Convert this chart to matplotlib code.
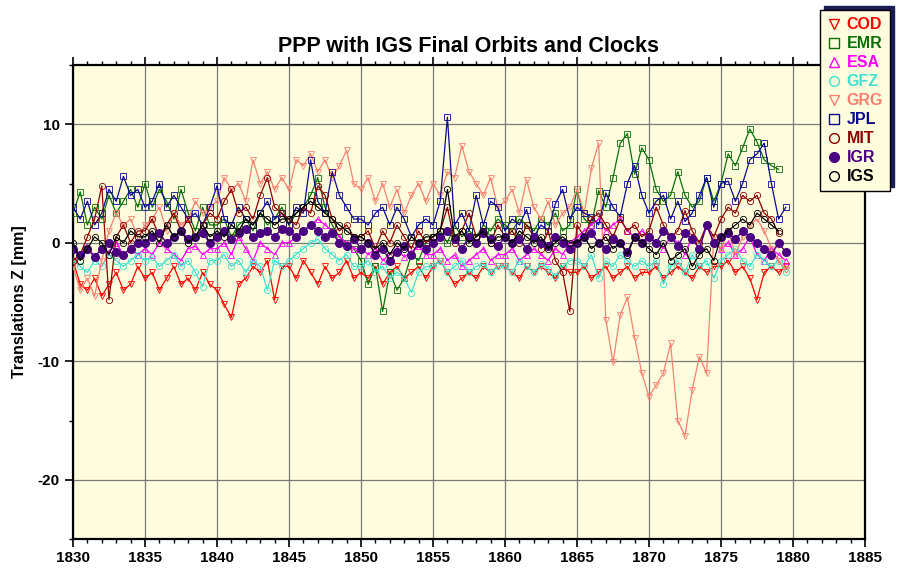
import numpy as np
import matplotlib
matplotlib.use("Agg")
import matplotlib.pyplot as plt
from matplotlib.lines import Line2D
from matplotlib.ticker import MultipleLocator

plt.rcParams['font.family'] = ['Liberation Sans', 'DejaVu Sans']
plt.rcParams['axes.unicode_minus'] = False

# GPS week of every sample (half-week steps)
week_start = 1830.0
step = 0.5

cod = [-1.5, -3.5, -4.0, -3.0, -4.5, -3.5, -2.5, -4.0, -3.5, -2.0,
       -3.0, -2.5, -4.0, -3.0, -2.0, -3.5, -3.0, -4.0, -2.5, -3.5,
       -4.0, -5.2, -6.3, -3.5, -3.0, -2.0, -2.5, -1.5, -4.8, -2.0,
       -2.0, -3.0, -1.5, -2.5, -3.5, -2.0, -3.0, -2.5, -1.5, -3.0,
       -2.5, -3.0, -2.0, -3.5, -2.5, -2.0, -3.0, -2.5, -2.0, -3.0,
       -2.0, -1.5, -2.5, -3.5, -3.0, -2.5, -3.0, -2.0, -2.5, -2.0,
       -2.0, -2.5, -3.0, -2.0, -2.5, -2.0, -2.5, -3.0, -2.0, -2.5,
       -2.5, -2.0, -3.0, -2.5, -2.0, -3.0, -2.5, -2.0, -3.0, -2.5,
       -2.5, -2.0, -3.0, -2.5, -2.0, -2.5, -3.0, -2.0, -2.5, -2.0,
       -2.0, -1.5, -2.5, -2.0, -3.0, -4.8, -2.5, -2.0, -2.5, -2.0]

emr = [2.5, 4.3, 1.5, 3.0, 2.0, 4.0, 2.5, 3.5, 4.5, 3.0,
       5.0, 3.0, 4.5, 3.5, 2.0, 4.5, 2.5, 1.0, 3.0, 1.5,
       1.5, 2.0, 0.5, 1.5, 2.0, 1.0, 2.5, 1.5, 2.0, 3.0,
       1.5, 2.5, 3.0, 4.0, 5.5, 3.0, 1.5, 0.5, 0.0, -0.5,
       -1.5, -3.5, -2.0, -5.8, -2.5, -4.0, -3.0, -1.0, -1.5, 0.0,
       0.5, 1.0, 0.0, 1.5, 0.5, 1.0, 0.5, 1.5, 1.0, 2.0,
       1.5, 1.0, 2.0, 1.5, 1.0, 2.0, 1.5, 2.5, 1.0, 1.5,
       4.5, 2.0, 1.5, 4.4, 3.0, 5.5, 8.4, 9.2, 5.8, 8.0,
       7.0, 4.5, 3.5, 4.0, 6.0, 4.0, 3.0, 3.5, 5.5, 3.5,
       5.0, 7.5, 6.5, 8.0, 9.6, 8.5, 7.0, 6.5, 6.2]

esa = [-0.5, -1.0, -0.3, -1.2, -0.5, -0.8, 0.0, -1.0, -0.5, -1.0,
       -0.5, -1.0, 0.0, -0.5, -1.0, -1.5, -0.5, -0.3, -1.0, -0.5,
       -0.5, 0.0, -1.0, 0.5, -0.5, -1.5, 0.0, -0.5, -1.0, 0.0,
       0.0, 0.5, 1.0, 1.5, 2.0, 1.5, 1.0, 0.5, 0.0, -0.5,
       -0.5, -1.0, -0.5, -1.5, -1.0, -0.5, -1.2, -0.8, -0.3, -1.0,
       -1.0, -0.5, -1.5, -1.0, -2.0, -1.5, -1.0, -0.5, -1.5, -1.0,
       -1.0, -0.5, -1.5, -1.0, -0.5, -1.0, -1.5, -0.5, -1.0, 0.0,
       0.5, 1.0, 1.5, 2.0, 1.0, 1.5, 2.0, 1.0, 0.5, 1.0,
       0.5, 0.0, -0.5, 0.5, 0.0, -1.0, 0.5, -0.5, 1.5, 0.0,
       -0.5, 0.0, -1.0, -0.5, 0.5, -1.0, -1.5, -0.5, -1.0, -1.5]

gfz = [-1.5, -2.0, -2.5, -1.5, -2.0, -1.0, -1.5, -2.0, -1.5, -1.0,
       -1.5, -1.2, -2.0, -1.5, -1.0, -2.0, -1.5, -2.5, -3.7, -1.5,
       -1.5, -1.0, -2.0, -1.5, -2.5, -1.5, -2.0, -4.0, -1.5, -2.0,
       -1.5, -1.0, -0.5, 0.0, 0.3, -0.5, -1.0, -1.5, -1.0, -2.0,
       -2.0, -1.5, -2.5, -2.0, -3.0, -2.5, -3.0, -4.2, -2.5, -2.0,
       -2.0, -1.5, -2.5, -2.0, -1.5, -2.5, -2.0, -1.8, -2.5, -2.0,
       -2.0, -2.5, -1.5, -2.0, -2.5, -1.8, -2.2, -2.8, -2.0, -1.5,
       -1.5, -2.0, -1.0, -3.0, -1.5, -2.0, -1.0, -1.5, -2.0, -1.5,
       -2.0, -1.5, -3.5, -2.0, -1.5, -2.5, -1.0, -2.0, -1.5, -3.0,
       -1.5, -1.0, -0.5, -1.5, -2.0, -1.0, -1.5, -2.0, -1.5, -2.5]

grg = [-2.0, -4.0, -3.0, -4.5, -1.5, 1.0, 2.5, 1.5, 2.0, 0.5,
       1.5, 2.0, 3.0, 1.0, 2.5, 1.5, 2.0, 3.5, 2.5, 3.0,
       3.5, 5.5, 4.5, 5.0, 3.5, 7.0, 5.0, 6.0, 4.5, 5.5,
       4.5, 7.0, 6.5, 7.5, 6.0, 7.0, 5.5, 6.5, 7.8, 5.0,
       4.5, 5.5, 3.5, 5.0, 3.0, 4.5, 2.5, 4.0, 5.0, 3.5,
       5.0, 4.0, 6.0, 5.5, 8.2, 6.0, 5.0, 4.0, 5.5, 3.0,
       3.5, 4.5, 2.5, 5.3, 3.0, 2.0, 3.5, 1.5, 2.5, 3.0,
       4.5, 2.5, 6.3, 8.4, -6.5, -10.1, -6.1, -4.6, -8.0, -11.0,
       -13.0, -12.0, -11.0, -8.5, -15.0, -16.3, -12.4, -9.6, -11.0, 0.5,
       -0.5, 1.0, -1.0, 0.5, 1.5, 2.0, 1.0, -0.5, -1.5, -2.3]

jpl = [3.0, 2.0, 3.5, 1.5, 2.5, 4.5, 3.5, 5.6, 4.0, 4.5,
       3.0, 3.5, 5.0, 3.0, 4.0, 3.0, 2.0, 2.5, 1.5, 3.0,
       4.8, 2.0, 1.5, 3.0, 2.0, 1.5, 2.5, 3.5, 2.0, 2.5,
       1.5, 3.0, 2.5, 7.0, 3.5, 2.5, 6.0, 4.0, 3.0, 2.0,
       2.0, 1.5, 2.5, 3.0, 1.5, 3.0, 2.0, 0.5, 1.5, 2.0,
       1.5, 3.5, 10.6, 1.5, 2.5, 1.0, 4.0, 1.5, 3.5, 3.0,
       1.0, 2.0, 1.5, 2.8, 0.5, 1.5, 1.0, 3.3, 4.5, 2.0,
       3.0, 2.5, 2.2, 1.5, 4.2, 3.0, 2.2, 5.0, 6.5, 4.0,
       2.5, 3.5, 4.0, 2.0, 3.5, 1.8, 2.5, 4.0, 5.5, 3.0,
       5.0, 5.2, 3.5, 5.0, 7.0, 7.5, 8.4, 5.0, 2.0, 3.0]

mit = [-1.5, -1.0, 0.5, 2.0, 4.8, -4.8, 0.5, 1.5, 0.0, 1.0,
       1.0, 2.0, 0.5, 1.5, 2.5, 1.0, 2.0, 0.5, 1.5, 2.5,
       2.0, 3.5, 4.5, 2.5, 3.0, 2.0, 4.0, 5.5, 3.0, 2.5,
       2.0, 1.5, 3.0, 2.5, 4.8, 4.0, 2.0, 1.0, 1.5, 0.5,
       0.5, 1.0, -0.5, 1.0, 0.0, 1.5, 0.5, -0.5, 1.0, 0.0,
       0.5, 1.0, 3.0, 0.0, 1.0, 2.5, 0.5, 1.0, 0.0, 1.5,
       0.5, 1.0, 0.0, 1.5, 0.5, -0.5, 1.0, -1.5, -2.5, -5.8,
       1.5, 0.5, 2.0, 2.5, 1.5, 0.5, 2.0, 1.0, 1.5, 0.5,
       1.0, 3.0, 1.5, 0.5, 1.0, 2.7, 1.0, 0.0, 1.5, 0.5,
       2.0, 3.0, 2.5, 4.0, 3.5, 4.0, 2.5, 2.0, 0.8]

igr = [-0.5, -1.0, -0.5, -1.2, -0.5, 0.0, -0.8, -1.0, -0.5, 0.0,
       0.0, 0.5, 0.8, 0.0, 0.5, 1.0, 0.3, 0.5, 0.8, 0.0,
       0.5, 1.0, 0.3, 0.8, 1.2, 0.5, 0.8, 1.0, 0.5, 1.2,
       1.0, 0.5, 1.0, 1.5, 1.0, 0.5, 0.8, 0.0, -0.3, 0.3,
       -0.5, 0.0, -1.0, -0.5, -1.5, -0.8, -0.3, -1.0, 0.0, -0.5,
       0.0, 0.5, 1.0, 0.3, -0.5, 0.5, 0.0, 0.8, 0.3, -0.3,
       0.5, 0.0, 0.3, -0.5, 0.5, 0.0, -0.3, 0.5, 0.0, -0.5,
       0.0, 0.5, 0.8, 0.0, -0.5, 0.3, 0.0, -0.8, 0.5, 0.0,
       0.5, 0.0, 1.0, 0.5, -0.3, 0.8, 0.3, -0.5, 1.5, 0.0,
       0.5, 0.8, 0.3, 1.0, 0.5, 0.0, -0.5, -1.0, 0.0, -0.8]

igs = [0.0, -1.5, -0.5, 0.5, 0.0, -1.0, 0.5, 0.0, 1.0, 0.5,
       0.5, 1.0, 0.0, 1.5, 0.5, 1.0, 0.0, 0.5, 1.5, 0.5,
       1.0, 0.5, 1.5, 1.0, 2.0, 1.5, 2.5, 2.0, 1.5, 2.0,
       2.0, 2.5, 3.0, 3.5, 3.0, 2.5, 2.0, 1.5, 1.0, 0.5,
       0.5, 0.0, -0.5, 0.0, -1.0, 0.0, -0.5, 0.5, 0.0, 0.5,
       0.5, 1.0, 4.5, 0.5, 1.0, 0.0, 0.5, 1.0, 0.0, 0.5,
       0.5, 0.0, 1.0, 0.5, 0.0, 0.5, -0.5, 0.0, 0.5, 0.0,
       0.0, 0.5, -0.5, 0.0, 0.5, -0.5, 0.0, -1.0, 0.5, 0.0,
       -0.5, -1.0, 0.0, -1.5, -1.0, -0.5, -2.0, -1.0, -0.5, -1.5,
       0.5, 1.0, 1.5, 2.0, 1.5, 2.5, 2.0, 1.5, 1.0]

names = ['COD', 'EMR', 'ESA', 'GFZ', 'GRG', 'JPL', 'MIT', 'IGR', 'IGS']
series = [cod, emr, esa, gfz, grg, jpl, mit, igr, igs]
colors = ['#ff0000', '#0b6e0b', '#ff00ff', '#40e0d0', '#fa8072',
          '#0a0a8c', '#8b0000', '#4b0082', '#000000']
markers = ['v', 's', '^', 'o', 'v', 's', 'o', 'o', 'o']

bg = '#fffddd'

fig = plt.figure(figsize=(8.98, 5.71), dpi=100)
ax = fig.add_axes([73 / 898, 1 - 539 / 571, 792 / 898, 474 / 571])
ax.set_facecolor(bg)

for name, vals, c, m in zip(names, series, colors, markers):
    x = week_start + step * np.arange(len(vals))
    if name == 'IGR':
        ax.plot(x, vals, color=c, lw=1.0, marker=m, ms=5.5, mfc=c, mec=c, zorder=3)
    else:
        ax.plot(x, vals, color=c, lw=0.9, marker=m, ms=4.5, mfc='none',
                mec=c, mew=0.6, zorder=3)

ax.set_xlim(1830, 1885)
ax.set_ylim(-25, 15)
ax.xaxis.set_major_locator(MultipleLocator(5))
ax.xaxis.set_minor_locator(MultipleLocator(1))
ax.yaxis.set_major_locator(MultipleLocator(10))
ax.yaxis.set_minor_locator(MultipleLocator(5))
ax.grid(True, which='major', color='#7a7a7a', lw=0.9, zorder=1)
ax.tick_params(axis='x', which='both', direction='out', top=True, labelsize=11, pad=3)
ax.tick_params(axis='x', which='major', length=6, width=1.2)
ax.tick_params(axis='x', which='minor', length=3, width=1)
ax.tick_params(axis='y', which='both', direction='out', labelsize=11)
ax.tick_params(axis='y', which='major', length=6, width=1.2)
ax.tick_params(axis='y', which='minor', length=3, width=1)
for lab in ax.get_xticklabels() + ax.get_yticklabels():
    lab.set_fontweight('bold')
for sp in ax.spines.values():
    sp.set_linewidth(1.6)

ax.set_title('PPP with IGS Final Orbits and Clocks', fontsize=15.5, fontweight='bold', pad=9)
ax.set_ylabel('Translations Z [mm]', fontsize=11.5, fontweight='bold', labelpad=8)

handles = []
for name, c, m in zip(names, colors, markers):
    fc = c if name == 'IGR' else 'none'
    handles.append(Line2D([], [], ls='none', marker=m, ms=7, mec=c, mfc=fc, mew=1))
leg = fig.legend(handles, names, loc='upper right', bbox_to_anchor=(890 / 898, 1 - 10 / 571),
                 frameon=True, fancybox=False, facecolor=bg, edgecolor='#000000',
                 framealpha=1, handlelength=0.8, handletextpad=0.4, labelspacing=0.25,
                 borderpad=0.45, borderaxespad=0,
                 prop={'size': 11.5, 'weight': 'bold'},
                 shadow={'ox': 3, 'oy': 3, 'facecolor': '#1c1c55', 'edgecolor': '#1c1c55', 'alpha': 1})
for t, c in zip(leg.get_texts(), colors):
    t.set_color(c)

fig.savefig('out.png', dpi=100)
